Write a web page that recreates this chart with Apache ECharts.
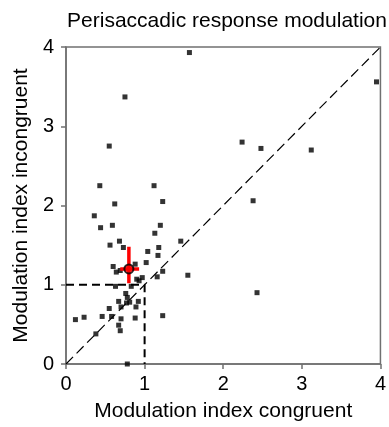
<!DOCTYPE html>
<html>
<head>
<meta charset="utf-8">
<script src="https://cdn.jsdelivr.net/npm/echarts@6/dist/echarts.min.js"></script>
<style>
html,body{margin:0;padding:0;background:#fff;}
#c{width:389px;height:427px;}
</style>
</head>
<body>
<div id="c"></div>
<script>
const titleText = 'Perisaccadic response modulation';
const xName = 'Modulation index congruent';
const yName = 'Modulation index incongruent';
const tickValues = [0, 1, 2, 3, 4];

const congruent = [1.57,0.75,0.55,0.43,1.12,0.62,1.23,0.36,0.44,0.59,1.20,1.13,0.68,0.56,0.73,1.18,1.04,1.17,1.46,1.02,0.88,0.60,0.64,0.69,1.23,1.16,1.55,0.90,0.97,0.93,0.63,0.83,0.76,0.78,0.67,0.81,0.92,0.77,0.70,0.89,0.55,0.46,0.58,0.70,0.88,1.23,0.23,0.12,0.67,0.69,0.38,0.78,3.95,2.24,2.48,3.12,2.38,2.43];
const incongruent = [3.93,3.37,2.75,2.25,2.25,2.02,2.05,1.87,1.72,1.75,1.75,1.65,1.55,1.50,1.47,1.47,1.42,1.37,1.55,1.28,1.26,1.23,1.16,1.18,1.17,1.10,1.12,1.07,1.09,1.05,0.98,0.98,0.89,0.84,0.79,0.78,0.79,0.77,0.72,0.72,0.70,0.60,0.60,0.57,0.58,0.61,0.59,0.56,0.49,0.42,0.38,0.00,3.56,2.80,2.72,2.70,2.06,0.90];

const meanPoint = [0.80, 1.20];
const meanXRange = [0.69, 0.93];
const meanYRange = [1.02, 1.48];
const diagonal = [[0, 0], [4, 4]];
const unityBox = [[0, 1], [1, 1], [1, 0]];

const points = congruent.map((x, i) => [x, incongruent[i]]);
const axisColor = '#707070';
const font = 'Liberation Sans, Arial, Helvetica, sans-serif';

function axisCfg(name, isX) {
  return {
    type: 'value', min: 0, max: 4, interval: 1,
    name: name, nameLocation: 'middle', nameGap: isX ? 37 : 34,
    nameTextStyle: {fontFamily: font, fontSize: 21, color: '#000'},
    axisLine: {show: true, onZero: false, lineStyle: {color: axisColor, width: 1.5}},
    axisTick: {show: true, inside: false, length: 5, lineStyle: {color: axisColor, width: 1.5}},
    axisLabel: {fontFamily: font, fontSize: 20, color: '#000', margin: isX ? 10 : 12},
    splitLine: {show: false}
  };
}

const chart = echarts.init(document.getElementById('c'), null, {renderer: 'canvas'});
chart.setOption({
  animation: false,
  title: {
    text: titleText, left: 222, top: 6, textAlign: 'center',
    textStyle: {fontFamily: font, fontSize: 21, fontWeight: 'normal', color: '#000'}
  },
  grid: {left: 66, top: 47, width: 320, height: 320, show: true, borderColor: axisColor, borderWidth: 1.5, backgroundColor: 'transparent'},
  xAxis: axisCfg(xName, true),
  yAxis: axisCfg(yName, false),
  series: [
    {
      type: 'line', data: diagonal, symbol: 'none', silent: true,
      lineStyle: {color: '#000', width: 1.2, type: [10, 5]}
    },
    {
      type: 'line', data: unityBox, symbol: 'none', silent: true,
      lineStyle: {color: '#000', width: 2, type: [8, 5]}
    },
    {
      type: 'scatter', data: points, symbol: 'rect', symbolSize: 5,
      itemStyle: {color: '#000'}, clip: false
    },
    {
      type: 'line', data: [[meanPoint[0], meanYRange[0]], [meanPoint[0], meanYRange[1]]], symbol: 'none',
      lineStyle: {color: '#ff0000', width: 3.5}, z: 4
    },
    {
      type: 'line', data: [[meanXRange[0], meanPoint[1]], [meanXRange[1], meanPoint[1]]], symbol: 'none',
      lineStyle: {color: '#ff0000', width: 3.5}, z: 4
    },
    {
      type: 'scatter', data: [meanPoint], symbol: 'circle', symbolSize: 9,
      itemStyle: {color: '#ff0000', borderColor: '#000', borderWidth: 2}, z: 5
    }
  ]
});
</script>
</body>
</html>
